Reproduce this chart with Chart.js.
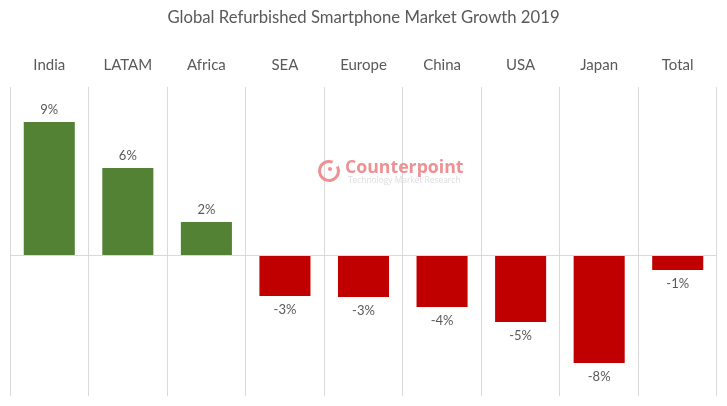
<!DOCTYPE html>
<html>
<head>
<meta charset="utf-8">
<style>
	html, body { margin: 0; padding: 0; background: #fff; }
	canvas { display: block; }
</style>
<script src="https://cdn.jsdelivr.net/npm/chart.js@4"></script>
</head>
<body>
<canvas id="growth" width="727" height="406"></canvas>
<script>
const regions = ["India", "LATAM", "Africa", "SEA", "Europe", "China", "USA", "Japan", "Total"];
const growth = [9.33, 6.12, 2.34, -2.83, -2.9, -3.6, -4.65, -7.52, -1.01];
const barLabels = ["9%", "6%", "2%", "-3%", "-3%", "-4%", "-5%", "-8%", "-1%"];
const chartTitle = "Global Refurbished Smartphone Market Growth 2019";
const watermarkName = "Counterpoint";
const watermarkSub = "Technology Market Research";

const green = "#548235";
const red = "#c00000";
const textColor = "#595959";

// value labels above / below the bars
const barLabelPlugin = {
	id: "barLabels",
	afterDatasetsDraw(chart) {
		const ctx = chart.ctx;
		ctx.save();
		ctx.font = "13px Lato";
		ctx.fillStyle = textColor;
		ctx.textAlign = "center";
		ctx.textBaseline = "middle";
		chart.getDatasetMeta(0).data.forEach((bar, i) => {
			const offset = growth[i] >= 0 ? -12 : 14;
			ctx.fillText(barLabels[i], bar.x, bar.y + offset);
		});
		ctx.restore();
	},
};

// faded logo in the middle of the plot
const watermarkPlugin = {
	id: "watermark",
	afterDraw(chart) {
		const ctx = chart.ctx;
		ctx.save();
		ctx.strokeStyle = "#ee9094";
		ctx.fillStyle = "#ee9094";
		ctx.lineWidth = 3;
		ctx.beginPath();
		ctx.arc(329, 171, 9.5, -0.5, 5.1);
		ctx.stroke();
		ctx.beginPath();
		ctx.arc(330, 169, 2, 0, Math.PI * 2);
		ctx.fill();
		ctx.textBaseline = "alphabetic";
		ctx.textAlign = "left";
		ctx.font = "bold 17.7px 'Open Sans'";
		ctx.fillText(watermarkName, 345, 173);
		ctx.fillStyle = "#dcdce0";
		ctx.font = "8.4px 'Open Sans'";
		ctx.fillText(watermarkSub, 348, 183);
		ctx.restore();
	},
};

new Chart(document.getElementById("growth"), {
	type: "bar",
	data: {
		labels: regions,
		datasets: [
			{
				data: growth,
				backgroundColor: growth.map(v => (v >= 0 ? green : red)),
				barPercentage: 0.65,
				categoryPercentage: 1,
			},
		],
	},
	options: {
		responsive: false,
		animation: false,
		layout: { padding: { left: 10, right: 10, bottom: 10, top: 8 } },
		plugins: {
			legend: { display: false },
			tooltip: { enabled: false },
			title: {
				display: true,
				text: chartTitle,
				color: textColor,
				font: { family: "Lato", size: 16.7, weight: "normal" },
				padding: { top: 0, bottom: 0 },
			},
		},
		scales: {
			x: {
				position: "top",
				grid: { color: "#d9d9d9", drawTicks: false },
				border: { display: false },
				ticks: { color: textColor, font: { family: "Lato", size: 15 }, padding: 13, maxRotation: 0, autoSkip: false },
				afterFit(scale) { scale.height = 59; },
			},
			y: {
				min: -9.83,
				max: 11.78,
				grid: {
					color: c => (c.tick.value === 0 ? "#d9d9d9" : "transparent"),
					drawTicks: false,
				},
				border: { display: false },
				ticks: { display: false },
				afterBuildTicks(scale) { scale.ticks = [{ value: 0 }]; },
				afterFit(scale) { scale.width = 0; },
			},
		},
	},
	plugins: [barLabelPlugin, watermarkPlugin],
});
</script>
</body>
</html>
